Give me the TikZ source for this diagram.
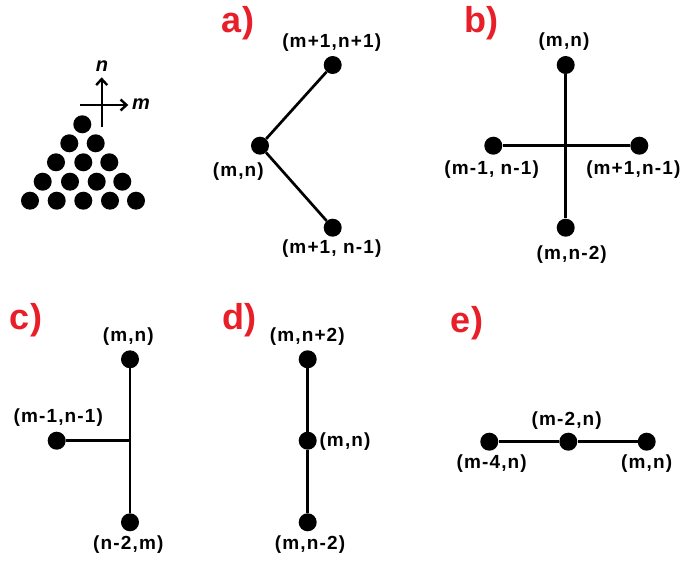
\documentclass[tikz,border=0pt]{standalone}
\usepackage{fontspec}
\setmainfont{Liberation Sans}
\newfontfamily\lblfont[LetterSpace=6]{Liberation Sans}
\usetikzlibrary{arrows.meta}
\definecolor{panelred}{RGB}{232,30,40}
\begin{document}
\begin{tikzpicture}[x=1pt,y=-1pt,
  dot/.style={circle,fill=black,inner sep=0pt,minimum size=18pt},
  lbl/.style={font=\lblfont\fontsize{19}{21}\selectfont\bfseries,inner sep=0pt},
  panel/.style={font=\fontsize{36}{38}\selectfont\bfseries,text=panelred,inner sep=0pt},
  link/.style={line width=2.7pt},
  axis/.style={line width=2.4pt,-{Straight Barb[length=6pt,width=11pt]}},
  axlbl/.style={font=\fontsize{20}{22}\selectfont\bfseries\itshape,inner sep=0pt}]
\useasboundingbox (0,0) rectangle (683,561);
\fill[white] (0,0) rectangle (683,561);

% lattice triangle
\node[dot] (t11) at (82.3,124.3) {};
\node[dot] (t21) at (69.3,143.3) {};
\node[dot] (t22) at (95.7,143.3) {};
\node[dot] (t31) at (56,162.3) {};
\node[dot] (t32) at (83.3,162.3) {};
\node[dot] (t33) at (109.3,162.3) {};
\node[dot] (t41) at (42.7,181.7) {};
\node[dot] (t42) at (70,181.7) {};
\node[dot] (t43) at (96.7,181.7) {};
\node[dot] (t44) at (122.3,181.7) {};
\node[dot] (t51) at (30,200.7) {};
\node[dot] (t52) at (56.7,200.7) {};
\node[dot] (t53) at (83.3,200.7) {};
\node[dot] (t54) at (110,200.7) {};
\node[dot] (t55) at (136,200.7) {};
\coordinate (ny0) at (101.7,127.3);
\coordinate (ny1) at (101.7,77.3);
\coordinate (mx0) at (80,105);
\coordinate (mx1) at (128.3,105);
\draw[axis] (ny0) -- (ny1);
\draw[axis] (mx0) -- (mx1);
\node[axlbl] (nlab) at (102,66) {n};
\node[axlbl] (mlab) at (141,104) {m};

% panel a
\node[panel] (pa) at (238,23.3) {a)};
\node[dot] (a1) at (332.7,65) {};
\node[dot] (a0) at (260,145.7) {};
\node[dot] (a2) at (332.7,227.7) {};
\draw[link] (a0) -- (a1);
\draw[link] (a0) -- (a2);
\node[lbl] (la1) at (331.7,42.7) {(m+1,n+1)};
\node[lbl] (la0) at (238.3,171.7) {(m,n)};
\node[lbl] (la2) at (331.7,248.3) {(m+1, n-1)};

% panel b
\node[panel] (pb) at (481,23.3) {b)};
\node[dot] (b1) at (565.7,65) {};
\node[dot] (b2) at (493.3,145.7) {};
\node[dot] (b3) at (639.3,145.7) {};
\node[dot] (b4) at (565.7,227.7) {};
\draw[link] (b1) -- (b4);
\draw[link] (b2) -- (b3);
\node[lbl] (lb1) at (564,41.7) {(m,n)};
\node[lbl] (lb2) at (491.7,170) {(m-1, n-1)};
\node[lbl] (lb3) at (633.3,170) {(m+1,n-1)};
\node[lbl] (lb4) at (571.7,255) {(m,n-2)};

% panel c
\node[panel] (pc) at (26,320) {c)};
\node[dot] (c1) at (130,359.3) {};
\node[dot] (c2) at (56.7,440.7) {};
\node[dot] (c3) at (130,522.3) {};
\coordinate (cj) at (130,440.7);
\draw[link] (c1) -- (c3);
\draw[link] (c2) -- (cj);
\node[lbl] (lc1) at (128.3,336.7) {(m,n)};
\node[lbl] (lc2) at (58.3,417.3) {(m-1,n-1)};
\node[lbl] (lc3) at (128.3,545) {(n-2,m)};

% panel d
\node[panel] (pd) at (239,320) {d)};
\node[dot] (d1) at (307.7,359.3) {};
\node[dot] (d2) at (307.7,440.7) {};
\node[dot] (d3) at (307.7,522.3) {};
\draw[link] (d1) -- (d2);
\draw[link] (d2) -- (d3);
\node[lbl] (ld1) at (307.3,336.7) {(m,n+2)};
\node[lbl] (ld2) at (345,441.7) {(m,n)};
\node[lbl] (ld3) at (310,545) {(m,n-2)};

% panel e
\node[panel] (pe) at (467,323.3) {e)};
\node[dot] (e1) at (489.3,441.7) {};
\node[dot] (e2) at (568.3,441.7) {};
\node[dot] (e3) at (646.7,441.7) {};
\draw[link] (e1) -- (e2);
\draw[link] (e2) -- (e3);
\node[lbl] (le2) at (566.7,421) {(m-2,n)};
\node[lbl] (le1) at (491.7,463.3) {(m-4,n)};
\node[lbl] (le3) at (646.7,463.3) {(m,n)};
\end{tikzpicture}
\end{document}
